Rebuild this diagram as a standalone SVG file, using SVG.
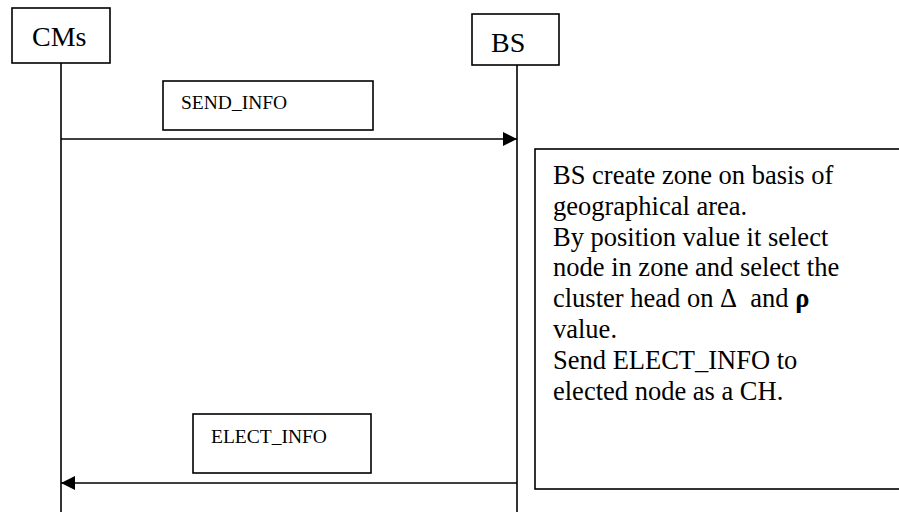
<svg xmlns="http://www.w3.org/2000/svg" width="899" height="512" viewBox="0 0 899 512">
  <style>
    .box { fill: #ffffff; stroke: #000000; stroke-width: 1.6; }
    .life { stroke: #000000; stroke-width: 1.6; fill: none; }
    .msg { stroke: #000000; stroke-width: 1.6; fill: none; }
    .t { font-family: "Liberation Serif", "Times New Roman", serif; fill: #000000; }
    .head { font-size: 28px; }
    .lbl { font-size: 19.5px; }
    .note { font-size: 26.5px; }
  </style>
  <defs>
    <marker id="arrow" markerWidth="14" markerHeight="14" refX="14" refY="7" orient="auto" markerUnits="userSpaceOnUse">
      <path d="M0,0 L14,7 L0,14 Z" fill="#000000"/>
    </marker>
  </defs>
  <rect width="899" height="512" fill="#ffffff"/>
  <g id="connectors">
    <line class="life" x1="61" y1="63" x2="61" y2="512"/>
    <line class="life" x1="517" y1="65" x2="517" y2="512"/>
    <line class="msg" x1="61" y1="139" x2="517" y2="139" marker-end="url(#arrow)"/>
    <line class="msg" x1="517" y1="483" x2="61" y2="483" marker-end="url(#arrow)"/>
  </g>
  <g id="cms">
    <rect class="box" x="12" y="8" width="98" height="55"/>
    <text class="t head" x="32" y="46">CMs</text>
  </g>
  <g id="bs">
    <rect class="box" x="472" y="14" width="87" height="51"/>
    <text class="t head" x="491" y="52">BS</text>
  </g>
  <g id="send-info">
    <rect class="box" x="163" y="81" width="210" height="49"/>
    <text class="t lbl" x="181" y="109">SEND_INFO</text>
  </g>
  <g id="elect-info">
    <rect class="box" x="193" y="414" width="178" height="59"/>
    <text class="t lbl" x="211" y="443">ELECT_INFO</text>
  </g>
  <g id="bs-note">
    <rect class="box" x="535" y="149" width="380" height="340"/>
    <text class="t note" x="553">
      <tspan x="553" y="184">BS create zone on basis of</tspan>
      <tspan x="553" y="214.8">geographical area.</tspan>
      <tspan x="553" y="245.6">By position value it select</tspan>
      <tspan x="553" y="276.4">node in zone and select the</tspan>
      <tspan x="553" y="307.2">cluster head on Δ&#160; and <tspan font-weight="bold">ρ</tspan></tspan>
      <tspan x="553" y="338">value.</tspan>
      <tspan x="553" y="368.8">Send ELECT_INFO to</tspan>
      <tspan x="553" y="399.6">elected node as a CH.</tspan>
    </text>
  </g>
</svg>
